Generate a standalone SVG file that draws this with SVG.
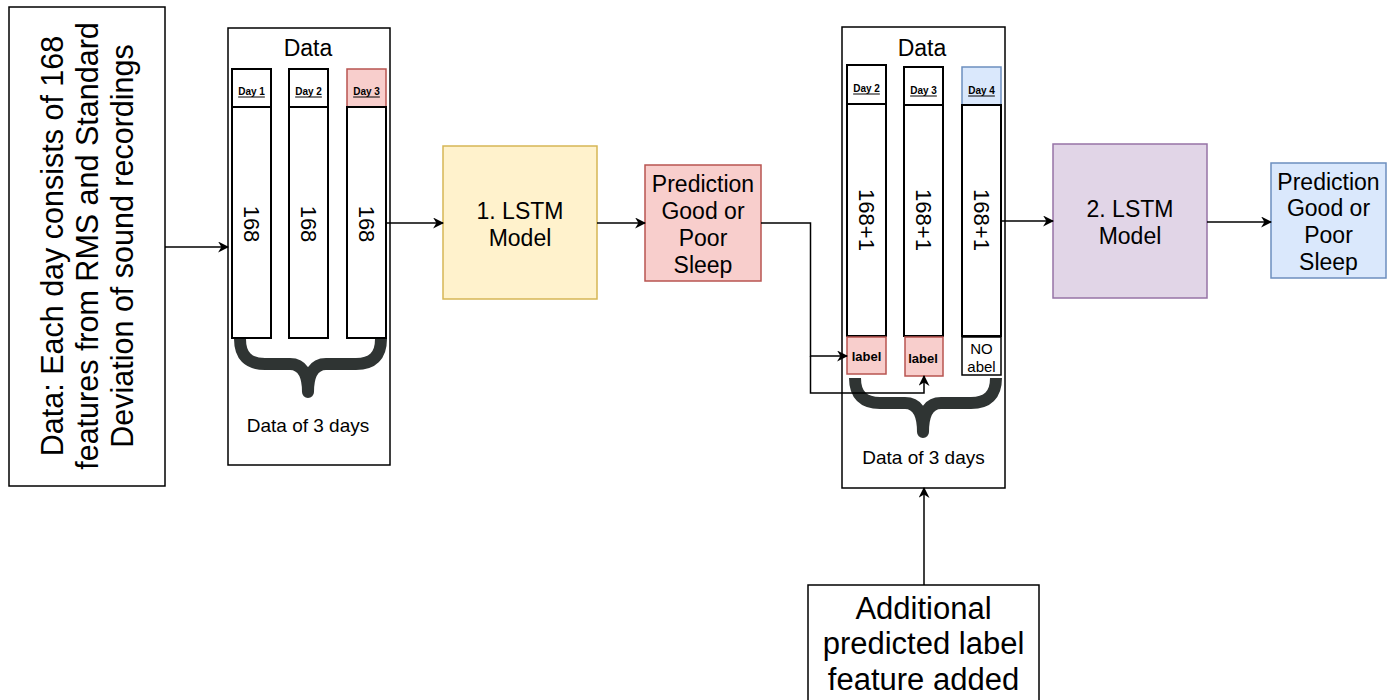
<svg xmlns="http://www.w3.org/2000/svg" width="1396" height="700" viewBox="0 0 1396 700">
<defs>
<style>
text{font-family:"Liberation Sans",Arial,sans-serif;fill:#000;text-anchor:middle;dominant-baseline:central}
.box{fill:#fff;stroke:#000;stroke-width:1.5}
.col{fill:#fff;stroke:#000;stroke-width:2}
.red{fill:#f8cecc;stroke:#b85450;stroke-width:1.5}
.blue{fill:#dae8fc;stroke:#6c8ebf;stroke-width:1.5}
.yel{fill:#fff2cc;stroke:#d6b656;stroke-width:1.5}
.pur{fill:#e1d5e7;stroke:#9673a6;stroke-width:1.5}
.brace{fill:none;stroke:#2f3433;stroke-width:12;stroke-linejoin:round}
.edge{fill:none;stroke:#000;stroke-width:1.5}
.day{font-size:10px;font-weight:bold;text-decoration:underline}
.big{font-size:30.5px}
.add{font-size:31px}
.mid{font-size:23px}
.num{font-size:22px}
.sm{font-size:19px}
.lbl{font-size:13px;font-weight:bold}
</style>
<marker id="arr" viewBox="0 0 10 10" refX="9" refY="5" markerWidth="11" markerHeight="11" markerUnits="userSpaceOnUse" orient="auto">
<path d="M0,0 L10,5 L0,10 L3,5 Z" fill="#000"/>
</marker>
</defs>
<rect width="1396" height="700" fill="#fff"/>

<g id="input">
<rect class="box" x="9" y="7" width="156" height="479"/>
<text class="big" transform="translate(52,246) rotate(-90)">Data: Each day consists of 168</text>
<text class="big" transform="translate(87,246) rotate(-90)">features from RMS and Standard</text>
<text class="big" transform="translate(122,246) rotate(-90)">Deviation of sound recordings</text>
</g>

<g id="data1">
<rect class="box" x="228" y="28" width="162" height="437"/>
<text class="mid" x="308" y="48">Data</text>
<rect class="col" x="232" y="69" width="39" height="38"/>
<text class="day" x="251.5" y="91">Day 1</text>
<rect class="col" x="232" y="107" width="39" height="231"/>
<text class="num" transform="translate(251.5,224) rotate(90)">168</text>
<rect class="col" x="289" y="69" width="39" height="38"/>
<text class="day" x="308.5" y="91">Day 2</text>
<rect class="col" x="289" y="107" width="39" height="231"/>
<text class="num" transform="translate(308.5,224) rotate(90)">168</text>
<rect class="red" x="347" y="69" width="39" height="38"/>
<text class="day" x="366.5" y="91">Day 3</text>
<rect class="col" x="347" y="107" width="39" height="231"/>
<text class="num" transform="translate(366.5,224) rotate(90)">168</text>
<path class="brace" d="M240,339 Q240,364 265,364 L290,364 Q308,364 308,392 Q308,364 326,364 L356,364 Q381,364 381,339"/>
<text class="sm" x="308" y="425">Data of 3 days</text>
</g>

<g id="lstm1">
<rect class="yel" x="443" y="146" width="154" height="153"/>
<text class="mid" x="520" y="211">1. LSTM</text>
<text class="mid" x="520" y="238">Model</text>
</g>

<g id="pred1">
<rect class="red" x="645" y="165" width="116" height="116"/>
<text class="mid" x="703" y="184">Prediction</text>
<text class="mid" x="703" y="211">Good or</text>
<text class="mid" x="703" y="238">Poor</text>
<text class="mid" x="703" y="265">Sleep</text>
</g>

<g id="data2">
<rect class="box" x="842" y="27" width="163" height="461"/>
<text class="mid" x="922" y="48">Data</text>
<rect class="col" x="847" y="65" width="39" height="39"/>
<text class="day" x="866.5" y="88">Day 2</text>
<rect class="col" x="847" y="104" width="39" height="232"/>
<text class="num" transform="translate(866.5,220) rotate(90)">168+1</text>
<rect class="red" x="847" y="337" width="39" height="37"/>
<text class="lbl" x="866.5" y="356">label</text>
<rect class="col" x="904" y="67" width="39" height="38"/>
<text class="day" x="923.5" y="90">Day 3</text>
<rect class="col" x="904" y="105" width="39" height="231"/>
<text class="num" transform="translate(923.5,220) rotate(90)">168+1</text>
<rect class="red" x="905" y="337" width="38" height="39"/>
<text class="lbl" x="923" y="358">label</text>
<rect class="blue" x="962" y="67" width="39" height="38"/>
<text class="day" x="981.5" y="90">Day 4</text>
<rect class="col" x="962" y="105" width="39" height="231"/>
<text class="num" transform="translate(981.5,220) rotate(90)">168+1</text>
<rect class="col" x="962" y="337" width="39" height="38" style="stroke-width:1.5"/>
<text style="font-size:15px" x="981.5" y="348">NO</text>
<text style="font-size:15px" x="981.5" y="366">abel</text>
<path class="brace" d="M855,378 Q855,403 880,403 L905,403 Q923,403 923,432 Q923,403 941,403 L971,403 Q996,403 996,378"/>
<text class="sm" x="923.5" y="457">Data of 3 days</text>
</g>

<g id="lstm2">
<rect class="pur" x="1053" y="144" width="154" height="154"/>
<text class="mid" x="1130" y="209">2. LSTM</text>
<text class="mid" x="1130" y="236">Model</text>
</g>

<g id="pred2">
<rect class="blue" x="1271" y="163" width="115" height="115"/>
<text class="mid" x="1328.5" y="182">Prediction</text>
<text class="mid" x="1328.5" y="208">Good or</text>
<text class="mid" x="1328.5" y="235">Poor</text>
<text class="mid" x="1328.5" y="262">Sleep</text>
</g>

<g id="additional">
<rect class="box" x="808" y="585" width="231" height="130"/>
<text class="add" x="923.5" y="608">Additional</text>
<text class="add" x="923.5" y="643">predicted label</text>
<text class="add" x="923.5" y="679">feature added</text>
</g>

<g id="edges">
<path class="edge" d="M165,247 H228" marker-end="url(#arr)"/>
<path class="edge" d="M386,223 H443" marker-end="url(#arr)"/>
<path class="edge" d="M597,223 H645" marker-end="url(#arr)"/>
<path class="edge" d="M761,223 H810.5 V356 H847" marker-end="url(#arr)"/>
<path class="edge" d="M810.5,356 V393 H924 V376" marker-end="url(#arr)"/>
<path class="edge" d="M1001,221 H1053" marker-end="url(#arr)"/>
<path class="edge" d="M1207,222 H1271" marker-end="url(#arr)"/>
<path class="edge" d="M924,585 V488" marker-end="url(#arr)"/>
</g>
</svg>
